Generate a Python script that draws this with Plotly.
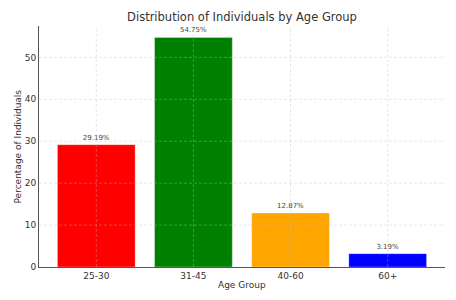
import plotly.graph_objects as go

categories = ["25-30", "31-45", "40-60", "60+"]
percentages = [29.19, 54.75, 12.87, 3.19]
bar_colors = ["red", "green", "orange", "blue"]
y_ticks = [0, 10, 20, 30, 40, 50]

labels = [f"{v:.2f}%" for v in percentages]
idx = list(range(len(categories)))

fig = go.Figure()
fig.add_trace(go.Bar(
    x=idx, y=percentages, width=0.8,
    marker=dict(color=bar_colors, line=dict(width=0.6, color="rgba(255,255,255,0.5)")),
    text=labels, textposition="outside", cliponaxis=False,
    textfont=dict(size=7, color="#444", family="DejaVu Sans"),
    hoverinfo="skip",
))

grid_style = dict(color="rgba(190,190,190,0.45)", width=0.8, dash="3px,2px")
shapes = []
for t in y_ticks[1:]:
    shapes.append(dict(type="line", xref="paper", yref="y", x0=0, x1=1, y0=t, y1=t,
                       line=grid_style, layer="above"))
for i in idx:
    shapes.append(dict(type="line", xref="x", yref="paper", x0=i, x1=i, y0=0, y1=1,
                       line=grid_style, layer="above"))

annotations = [
    dict(text="Age Group", xref="paper", yref="paper", x=0.5, y=0, xanchor="center",
         yanchor="middle", yshift=-18, showarrow=False,
         font=dict(size=9, color="#333", family="DejaVu Sans")),
    dict(text="Percentage of Individuals", xref="paper", yref="paper", x=0, y=0.5,
         xanchor="center", yanchor="middle", xshift=-22, textangle=-90, showarrow=False,
         font=dict(size=9, color="#333", family="DejaVu Sans")),
]

ymax = max(percentages) * 1.05
fig.update_layout(
    width=456, height=300,
    margin=dict(l=39, r=11, t=26, b=33),
    paper_bgcolor="white", plot_bgcolor="white",
    font=dict(family="DejaVu Sans", color="#333"),
    title=dict(text="Distribution of Individuals by Age Group", x=0.5, xanchor="center",
               xref="paper",
               y=1 - 17 / 300, yanchor="middle", font=dict(size=11.5, color="#333")),
    showlegend=False,
    bargap=0.2,
    shapes=shapes,
    annotations=annotations,
    xaxis=dict(
        range=[-0.59, len(categories) - 1 + 0.59],
        tickmode="array", tickvals=idx, ticktext=categories,
        showgrid=False, zeroline=False, automargin=False,
        showline=True, linecolor="#555", linewidth=1,
        ticks="",
        tickfont=dict(size=9, color="#333"),
    ),
    yaxis=dict(
        range=[0, ymax],
        tickmode="array", tickvals=y_ticks,
        showgrid=False, zeroline=False, automargin=False,
        showline=True, linecolor="#555", linewidth=1,
        ticks="",
        tickfont=dict(size=9, color="#333"),
    ),
)

fig.write_html("out.html", config={"displayModeBar": False},
               post_script="document.body.style.margin='0';")
